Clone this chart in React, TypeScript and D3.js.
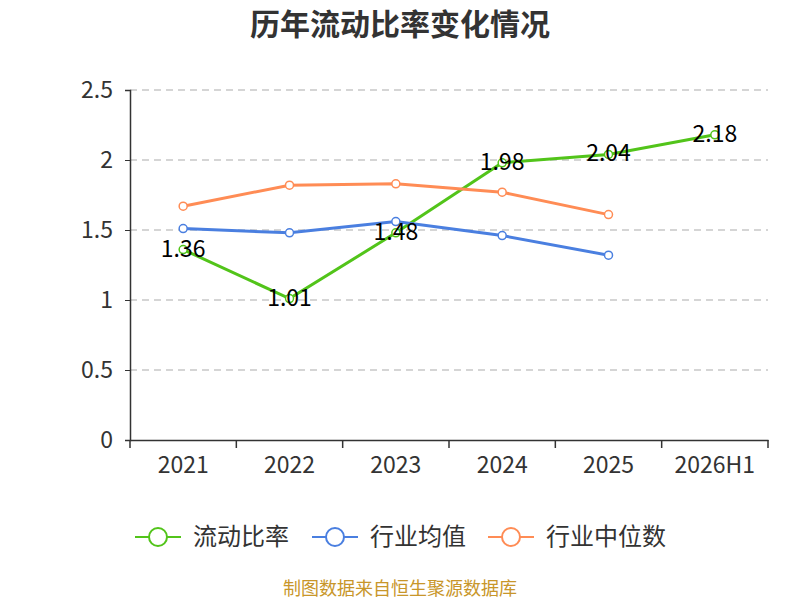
import { useRef, useEffect } from 'react';
import * as d3 from 'd3';

const categories = ['2021', '2022', '2023', '2024', '2025', '2026H1'];
const currentRatio = [1.36, 1.01, 1.48, 1.98, 2.04, 2.18];
const industryMean = [1.51, 1.48, 1.56, 1.46, 1.32];
const industryMedian = [1.67, 1.82, 1.83, 1.77, 1.61];
const yTicks = [0, 0.5, 1, 1.5, 2, 2.5];

const seriesList = [
  { name: '流动比率', values: currentRatio, color: '#52c41a' },
  { name: '行业均值', values: industryMean, color: '#4a7fe0' },
  { name: '行业中位数', values: industryMedian, color: '#ff8c55' },
];

const FONT = '"Microsoft YaHei", "Noto Sans CJK SC", "Noto Sans", sans-serif';

export default function App() {
  const svgRef = useRef<SVGSVGElement>(null);

  useEffect(() => {
    if (!svgRef.current) return;
    const svg = d3.select(svgRef.current);
    svg.selectAll('*').remove();

    const width = 800;
    const height = 600;
    const margin = { top: 90, right: 32, bottom: 160, left: 130 };
    const innerW = width - margin.left - margin.right;
    const innerH = height - margin.top - margin.bottom;

    svg.attr('width', width).attr('height', height).style('font-family', FONT);

    svg.append('text')
      .attr('x', width / 2).attr('y', 35)
      .attr('text-anchor', 'middle')
      .attr('font-size', 30).attr('font-weight', 700)
      .attr('fill', '#333')
      .text('历年流动比率变化情况');

    const g = svg.append('g').attr('transform', `translate(${margin.left},${margin.top})`);

    const x = d3.scaleBand<string>().domain(categories).range([0, innerW]);
    const y = d3.scaleLinear().domain([0, 2.5]).range([innerH, 0]);

    // grid
    g.selectAll('.grid')
      .data(yTicks.filter((t) => t > 0))
      .enter()
      .append('line')
      .attr('x1', 0).attr('x2', innerW)
      .attr('y1', (d) => y(d)).attr('y2', (d) => y(d))
      .attr('stroke', '#c8c8c8')
      .attr('stroke-width', 1.5)
      .attr('stroke-dasharray', '7,5');

    // y axis
    const yAxis = g.append('g')
      .call(d3.axisLeft(y).tickValues(yTicks).tickSize(5).tickPadding(12).tickFormat((d) => `${d}`));
    yAxis.select('.domain').attr('stroke', '#333').attr('stroke-width', 1.5);
    yAxis.selectAll('line').attr('stroke', '#333');
    yAxis.selectAll('text').attr('fill', '#333').attr('font-size', 23).attr('font-family', FONT);

    // x axis
    const xAxis = g.append('g')
      .attr('transform', `translate(0,${innerH})`)
      .call(d3.axisBottom(x).tickSize(0).tickPadding(17));
    xAxis.select('.domain').attr('stroke', '#333').attr('stroke-width', 1.5);
    xAxis.selectAll('text').attr('fill', '#333').attr('font-size', 23).attr('font-family', FONT);
    const bounds = [...categories.map((c) => x(c)!), innerW];
    xAxis.selectAll('.bound')
      .data(bounds)
      .enter()
      .append('line')
      .attr('x1', (d) => d).attr('x2', (d) => d)
      .attr('y1', 0).attr('y2', 8)
      .attr('stroke', '#333').attr('stroke-width', 1.5);

    const cx = (i: number) => x(categories[i])! + x.bandwidth() / 2;
    const line = d3.line<number>().x((_, i) => cx(i)).y((d) => y(d));

    seriesList.forEach((s) => {
      g.append('path')
        .datum(s.values)
        .attr('d', line)
        .attr('fill', 'none')
        .attr('stroke', s.color)
        .attr('stroke-width', 3);
      g.selectAll(null)
        .data(s.values)
        .enter()
        .append('circle')
        .attr('cx', (_, i) => cx(i))
        .attr('cy', (d) => y(d))
        .attr('r', 4)
        .attr('fill', '#fff')
        .attr('stroke', s.color)
        .attr('stroke-width', 1.5);
    });

    const green = seriesList[0];
    g.selectAll(null)
      .data(green.values)
      .enter()
      .append('text')
      .attr('x', (_, i) => cx(i))
      .attr('y', (d) => y(d) + 7)
      .attr('text-anchor', 'middle')
      .attr('font-size', 23)
      .attr('fill', '#000')
      .text((d) => d.toFixed(2));

    // legend
    const legendX = [135, 312, 488];
    const ly = 537;
    seriesList.forEach((s, i) => {
      const lg = svg.append('g').attr('transform', `translate(${legendX[i]},${ly})`);
      lg.append('line').attr('x1', 0).attr('x2', 46).attr('y1', 0).attr('y2', 0)
        .attr('stroke', s.color).attr('stroke-width', 2);
      lg.append('circle').attr('cx', 23).attr('cy', 0).attr('r', 9)
        .attr('fill', '#fff').attr('stroke', s.color).attr('stroke-width', 2);
      lg.append('text').attr('x', 58).attr('y', 8)
        .attr('font-size', 24).attr('fill', '#333').text(s.name);
    });

    svg.append('text')
      .attr('x', width / 2).attr('y', 595)
      .attr('text-anchor', 'middle')
      .attr('font-size', 18)
      .attr('fill', '#c8962a')
      .text('制图数据来自恒生聚源数据库');
  }, []);

  return <svg ref={svgRef} style={{ display: 'block', position: 'absolute', left: 0, top: 0 }} />;
}
